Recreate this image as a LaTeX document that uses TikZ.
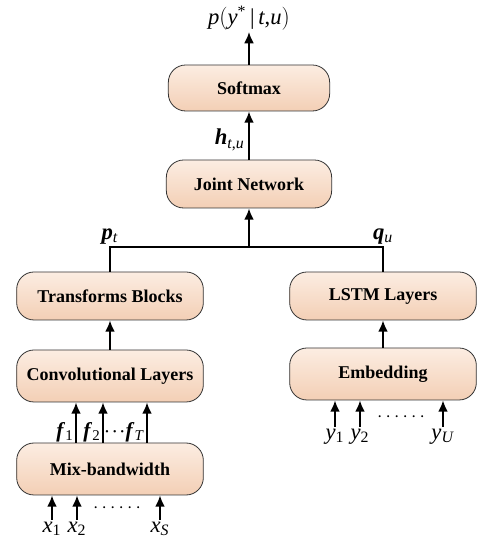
\documentclass[tikz,border=0pt]{standalone}
\usepackage{fontspec}
\setmainfont{Liberation Serif}
\usetikzlibrary{arrows.meta,positioning}

\definecolor{peachtop}{HTML}{FCEDE2}
\definecolor{peachbot}{HTML}{F3CFB5}

\tikzset{
	layer/.style={draw=black!80, line width=0.6pt, rounded corners=13pt,
		top color=peachtop, bottom color=peachbot,
		minimum width=140pt, minimum height=39pt,
		font=\fontsize{13.5}{16}\selectfont\bfseries},
	arr/.style={-{Latex[length=8.5pt,width=7.5pt]}, line width=1.5pt},
	lbl/.style={font=\fontsize{17}{20}\selectfont, inner sep=1pt},
	flbl/.style={font=\fontsize{16}{19}\selectfont, inner sep=1pt},
}

\begin{document}
\begin{tikzpicture}[x=0.75pt,y=0.75pt]
	\useasboundingbox (0,0) rectangle (481,545);

	\node[layer, minimum width=121pt, minimum height=34.5pt] (soft) at (249,457) {Softmax};
	\node[layer, minimum width=124pt, minimum height=36pt] (joint) at (249,361) {Joint Network};
	\node[layer, minimum height=36pt] (trans) at (110,249) {Transforms Blocks};
	\node[layer, minimum height=36pt] (lstm) at (383,249) {LSTM Layers};
	\node[layer] (conv) at (110,169) {Convolutional Layers};
	\node[layer] (embed) at (383,171) {Embedding};
	\node[layer] (mix) at (110,76) {Mix-bandwidth};

	% output
	\coordinate (out) at (249,513);
	\draw[arr] (soft) -- (out);
	\node[lbl, above=0pt of out] (py) {\textit{p}$\bigl($\textit{y}\textsuperscript{*}\,|\,\textit{t},\textit{u}$\bigr)$};
	\draw[arr] (joint) -- (soft);
	\node[lbl, anchor=east] (h) at (246,405) {\textbf{\textit{h}}\textsubscript{\textit{t},\textit{u}}};

	% merge of the two branches
	\coordinate (jn) at (249,298);
	\draw[line width=1.5pt] (trans.north) |- (jn) -| (lstm.north);
	\draw[arr] (jn) -- (joint);
	\node[lbl, above=1pt of trans.north |- jn] (pt) {\textbf{\textit{p}}\textsubscript{\textit{t}}};
	\node[lbl, above=1pt of lstm.north |- jn] (qu) {\textbf{\textit{q}}\textsubscript{\textit{u}}};

	\draw[arr] (conv) -- (trans);
	\draw[arr] (embed) -- (lstm);

	% frames
	\coordinate (fa) at (76,0);
	\coordinate (fb) at (103,0);
	\coordinate (fc) at (147,0);
	\draw[arr] (mix.north -| fa) -- (conv.south -| fa);
	\draw[arr] (mix.north -| fb) -- (conv.south -| fb);
	\draw[arr] (mix.north -| fc) -- (conv.south -| fc);
	\node[flbl, anchor=east] (f1) at (75,113) {\textbf{\textit{f}}\textsubscript{1}};
	\node[flbl, anchor=east] (f2) at (102,113) {\textbf{\textit{f}}\textsubscript{2}};
	\node[flbl, anchor=east] (fT) at (146,113) {$\cdot\!\cdot\!\cdot$\textbf{\textit{f}}\textsubscript{\textit{T}}};

	% acoustic inputs
	\coordinate (xa) at (52,25);
	\coordinate (xb) at (77,25);
	\coordinate (xc) at (160,25);
	\draw[arr] (xa) -- (mix.south -| xa);
	\draw[arr] (xb) -- (mix.south -| xb);
	\draw[arr] (xc) -- (mix.south -| xc);
	\node[lbl, below=0pt of xa] (x1) {\textit{x}\textsubscript{1}};
	\node[lbl, below=0pt of xb] (x2) {\textit{x}\textsubscript{2}};
	\node[lbl, below=0pt of xc] (xS) {\textit{x}\textsubscript{\textit{S}}};
	\node[font=\fontsize{14}{16}\selectfont] (xdots) at (117,37) {$\cdots\cdots$};

	% label inputs
	\coordinate (ya) at (335,118);
	\coordinate (yb) at (360,118);
	\coordinate (yc) at (443,118);
	\draw[arr] (ya) -- (embed.south -| ya);
	\draw[arr] (yb) -- (embed.south -| yb);
	\draw[arr] (yc) -- (embed.south -| yc);
	\node[lbl, below=0pt of ya] (y1) {\textit{y}\textsubscript{1}};
	\node[lbl, below=0pt of yb] (y2) {\textit{y}\textsubscript{2}};
	\node[lbl, below=0pt of yc] (yU) {\textit{y}\textsubscript{\textit{U}}};
	\node[font=\fontsize{14}{16}\selectfont] (ydots) at (401,128) {$\cdots\cdots$};
\end{tikzpicture}
\end{document}
